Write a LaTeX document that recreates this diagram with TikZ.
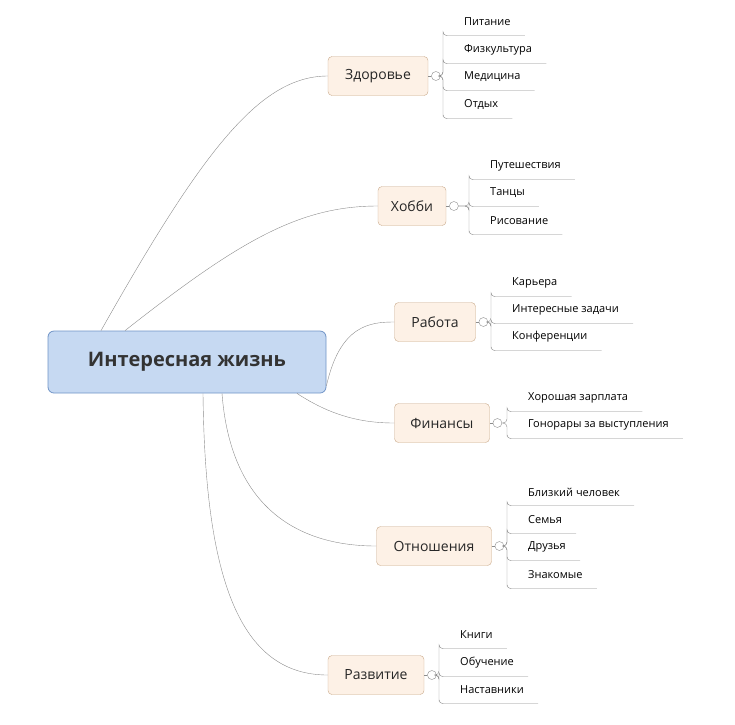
\documentclass[tikz,border=0pt]{standalone}
\usepackage{fontspec}
\setmainfont{Open Sans}
\usetikzlibrary{positioning}
\definecolor{rootfill}{HTML}{C6D9F2}
\definecolor{rootdraw}{HTML}{6F93C6}
\definecolor{topfill}{HTML}{FDF1E6}
\definecolor{topdraw}{HTML}{C9A98A}
\definecolor{linegray}{HTML}{8C8C8C}
\begin{document}
\begin{tikzpicture}[x=1pt,y=-1pt]
\tikzstyle{root}=[rectangle, rounded corners=6pt, draw=rootdraw, fill=rootfill,
	thick, minimum width=278pt, minimum height=62pt, font=\fontsize{20}{24}\selectfont\bfseries,
	text=black!80]
\tikzstyle{topic}=[rectangle, rounded corners=4pt, draw=topdraw, fill=topfill,
	minimum height=39pt, font=\fontsize{14}{16}\selectfont, text=black!85]
\tikzstyle{fold}=[circle, draw=linegray, fill=white, inner sep=0pt, minimum size=9pt]
\tikzstyle{leaf}=[anchor=west, inner xsep=0pt, minimum height=27pt, font=\fontsize{11}{13}\selectfont]
\tikzstyle{link}=[draw=linegray, thin]
\useasboundingbox (0,0) rectangle (735,724);

\node[root] (life) at (187,362) {Интересная жизнь};
\node[topic, minimum width=100pt] (health) at (378,76) {Здоровье};
\node[topic, minimum width=68pt] (hobby) at (412,206) {Хобби};
\node[topic, minimum width=81pt] (work) at (435,322) {Работа};
\node[topic, minimum width=95pt] (money) at (442,423) {Финансы};
\node[topic, minimum width=115pt] (rel) at (434,546) {Отношения};
\node[topic, minimum width=96pt] (grow) at (376,675) {Развитие};

% main curves
\draw[link] ([xshift=-86pt]life.north) .. controls (203,150) and (260,76) .. (health.west);
\draw[link] ([xshift=-62pt]life.north) .. controls (240,240) and (300,206) .. (hobby.west);
\draw[link] ([yshift=-24pt]life.east) .. controls (340,325) and (370,322) .. (work.west);
\draw[link] ([xshift=110pt]life.south) .. controls (330,415) and (360,423) .. (money.west);
\draw[link] ([xshift=35pt]life.south) .. controls (230,500) and (290,546) .. (rel.west);
\draw[link] ([xshift=16pt]life.south) .. controls (205,580) and (240,675) .. (grow.west);

% fold markers
\node[fold, right=3pt of health] (mhealth) {};
\node[fold, right=3pt of hobby] (mhobby) {};
\node[fold, right=3pt of work] (mwork) {};
\node[fold, right=3pt of money] (mmoney) {};
\node[fold, right=3pt of rel] (mrel) {};
\node[fold, right=3pt of grow] (mgrow) {};
\foreach \t in {health,hobby,work,money,rel,grow}
  \draw[link] (\t.east) -- (m\t.west);

% leaves
\foreach \n/\x/\y/\s in {h1/464/22/Питание, h2/464/50/Физкультура, h3/464/77/Медицина, h4/464/105/Отдых,
  b1/490/166/Путешествия, b2/490/193/Танцы, b3/490/221/Рисование,
  w1/512/283/Карьера, w2/512/310/Интересные задачи, w3/512/337/Конференции,
  f1/528/398/Хорошая зарплата, f2/528/425/Гонорары за выступления,
  r1/528/492/Близкий человек, r2/528/520/Семья, r3/528/547/Друзья, r4/528/575/Знакомые,
  g1/460/635/Книги, g2/460/663/Обучение, g3/460/690/Наставники}
  \node[leaf] (\n) at (\x,\y) {\s};

\foreach \m/\l in {mhealth/h1, mhealth/h2, mhealth/h3, mhealth/h4,
  mhobby/b1, mhobby/b2, mhobby/b3, mwork/w1, mwork/w2, mwork/w3,
  mmoney/f1, mmoney/f2, mrel/r1, mrel/r2, mrel/r3, mrel/r4,
  mgrow/g1, mgrow/g2, mgrow/g3}
  \draw[link, rounded corners=4pt] (\m.east) -- ([xshift=-21pt]\m.east -| \l.west)
    |- ([xshift=-21pt]\l.south west) -- ([xshift=14pt]\l.south east);
\end{tikzpicture}
\end{document}
